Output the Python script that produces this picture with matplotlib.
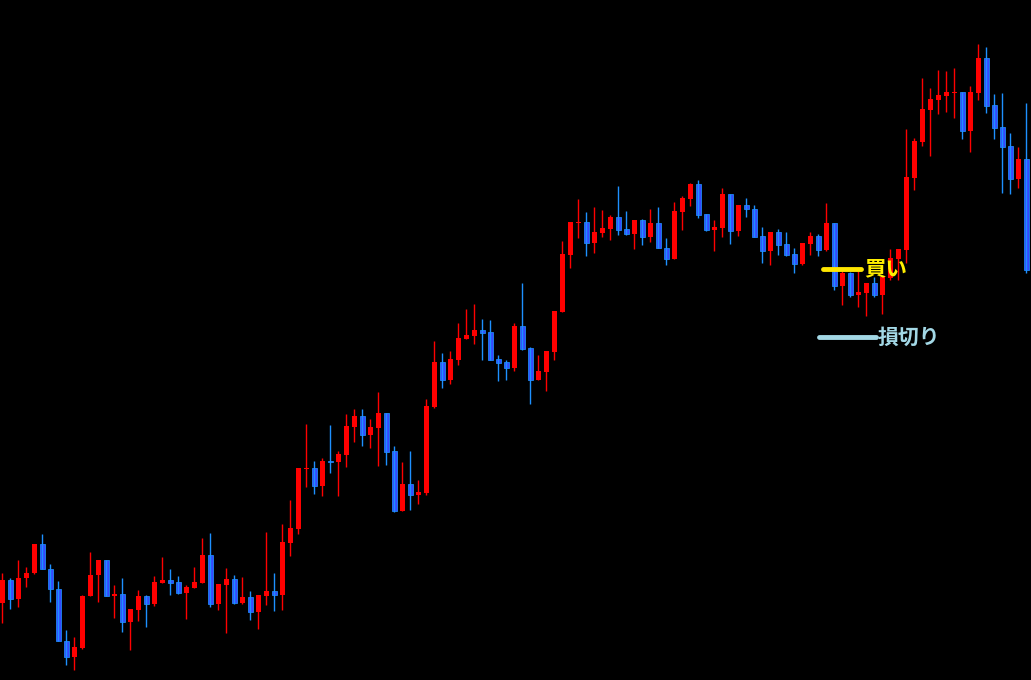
import matplotlib
matplotlib.use("Agg")
import matplotlib.pyplot as plt
import numpy as np

plt.rcParams['font.family'] = ['Noto Sans CJK JP', 'DejaVu Sans']

# OHLC (price units)
opens = [77, 100, 81, 102, 107, 136, 111, 91, 39, 23, 32, 84, 105, 120, 84, 86, 58, 70, 84, 76,
         97, 100, 98, 87, 92, 97, 125, 76, 95, 101, 77, 83, 68, 84, 89, 85, 137, 151, 211, 212,
         194, 219, 218, 225, 253, 264, 245, 252, 267, 229, 169, 196, 185, 187, 273, 318, 300, 320, 341, 344,
         350, 348, 321, 318, 312, 354, 332, 300, 308, 328, 368, 425, 457, 458, 437, 447, 451, 463, 451, 446,
         460, 443, 457, 432, 421, 468, 481, 496, 466, 450, 452, 486, 449, 475, 471, 444, 429, 448, 436, 426,
         416, 436, 444, 430, 457, 394, 407, 385, 387, 397, 385, 402, 421, 430, 502, 538, 570, 580, 584, 587,
         588, 549, 587, 622, 575, 553, 534, 501, 521]
highs = [107, 102, 120, 113, 136, 146, 116, 99, 50, 43, 85, 128, 120, 120, 95, 102, 71, 90, 85, 104,
         123, 111, 104, 95, 113, 142, 147, 96, 112, 105, 103, 89, 85, 148, 107, 156, 180, 212, 256, 219,
         222, 255, 229, 266, 271, 271, 261, 288, 267, 234, 218, 229, 200, 281, 339, 327, 329, 357, 371, 376,
         361, 360, 325, 320, 357, 397, 333, 325, 329, 369, 439, 458, 481, 468, 473, 470, 465, 494, 469, 460,
         461, 471, 473, 442, 478, 484, 497, 500, 466, 460, 492, 486, 475, 482, 475, 453, 448, 451, 448, 432,
         437, 448, 446, 477, 457, 410, 408, 409, 397, 403, 403, 431, 431, 551, 542, 602, 592, 610, 609, 612,
         588, 594, 636, 633, 586, 587, 547, 533, 577]
lows = [57, 71, 73, 93, 106, 111, 78, 39, 15, 10, 31, 84, 78, 84, 62, 48, 30, 59, 53, 74,
        97, 85, 86, 61, 92, 97, 73, 70, 47, 76, 76, 60, 51, 75, 69, 70, 124, 146, 193, 186,
        184, 207, 184, 213, 238, 234, 232, 214, 215, 168, 169, 170, 176, 185, 272, 292, 296, 315, 341, 336,
        320, 320, 299, 300, 309, 330, 276, 300, 289, 320, 368, 412, 442, 424, 427, 443, 440, 445, 445, 431,
        435, 438, 432, 415, 421, 450, 474, 462, 449, 429, 443, 436, 444, 463, 443, 417, 415, 425, 424, 407,
        415, 425, 424, 429, 390, 375, 383, 373, 364, 383, 366, 400, 400, 417, 490, 534, 524, 566, 568, 562,
        541, 528, 580, 567, 541, 487, 486, 492, 407]
closes = [100, 81, 102, 107, 136, 111, 91, 39, 23, 33, 84, 105, 120, 84, 86, 58, 71, 84, 76, 98,
          100, 97, 87, 93, 98, 125, 76, 96, 101, 77, 83, 68, 85, 89, 85, 138, 152, 212, 212, 194,
          219, 218, 226, 254, 264, 245, 253, 267, 228, 169, 196, 185, 188, 274, 318, 300, 321, 342, 345, 350,
          347, 320, 317, 312, 354, 331, 300, 309, 329, 369, 426, 458, 458, 437, 448, 452, 463, 450, 446, 460,
          443, 457, 432, 421, 469, 482, 496, 465, 450, 453, 486, 449, 475, 471, 443, 429, 448, 435, 425, 416,
          437, 444, 430, 457, 394, 407, 385, 388, 397, 385, 403, 422, 431, 503, 539, 571, 581, 585, 588, 588,
          549, 588, 622, 574, 552, 533, 501, 521, 410]

buy_label = '買い'
stop_label = '損切り'
buy_level = 411
stop_level = 343

RED = '#ff0000'
BLUE_FILL = '#3548ff'
BLUE_EDGE = '#1e90ff'

o = np.array(opens)
h = np.array(highs)
l = np.array(lows)
c = np.array(closes)
x = np.arange(len(o))
up = c >= o

fig = plt.figure(figsize=(10.31, 6.8), dpi=100, facecolor='black')
ax = fig.add_axes([0, 0, 1, 1])
ax.set_facecolor('black')

# wicks
ax.vlines(x[up], l[up], h[up], color=RED, linewidth=1.0)
ax.vlines(x[~up], l[~up], h[~up], color=BLUE_EDGE, linewidth=1.0)

# bodies
bottom = np.minimum(o, c)
height = np.maximum(np.abs(c - o), 0.9)
ax.bar(x[up], height[up], bottom=bottom[up], width=0.62, color=RED, edgecolor=RED, linewidth=0)
ax.bar(x[~up], height[~up], bottom=bottom[~up], width=0.56, color=BLUE_FILL,
       edgecolor=BLUE_EDGE, linewidth=0.55)

# buy / stop-loss markers
ax.plot([102.6, 107.4], [buy_level, buy_level], color='#ffe600', linewidth=3.5,
        solid_capstyle='round', zorder=5)
ax.text(107.75, buy_level, buy_label, color='#ffee00', fontsize=15.5, fontweight='bold',
        va='center', ha='left', zorder=6)
ax.plot([102.1, 109.2], [stop_level, stop_level], color='#a3d8e6', linewidth=3.5,
        solid_capstyle='round', zorder=5)
ax.text(109.4, stop_level, stop_label, color='#a3d8e6', fontsize=15, fontweight='bold',
        va='center', ha='left', zorder=6)

ax.set_xlim(-0.2875, 128.59)
ax.set_ylim(0, 680)
ax.axis('off')

fig.savefig('out.png', dpi=100, facecolor='black')
